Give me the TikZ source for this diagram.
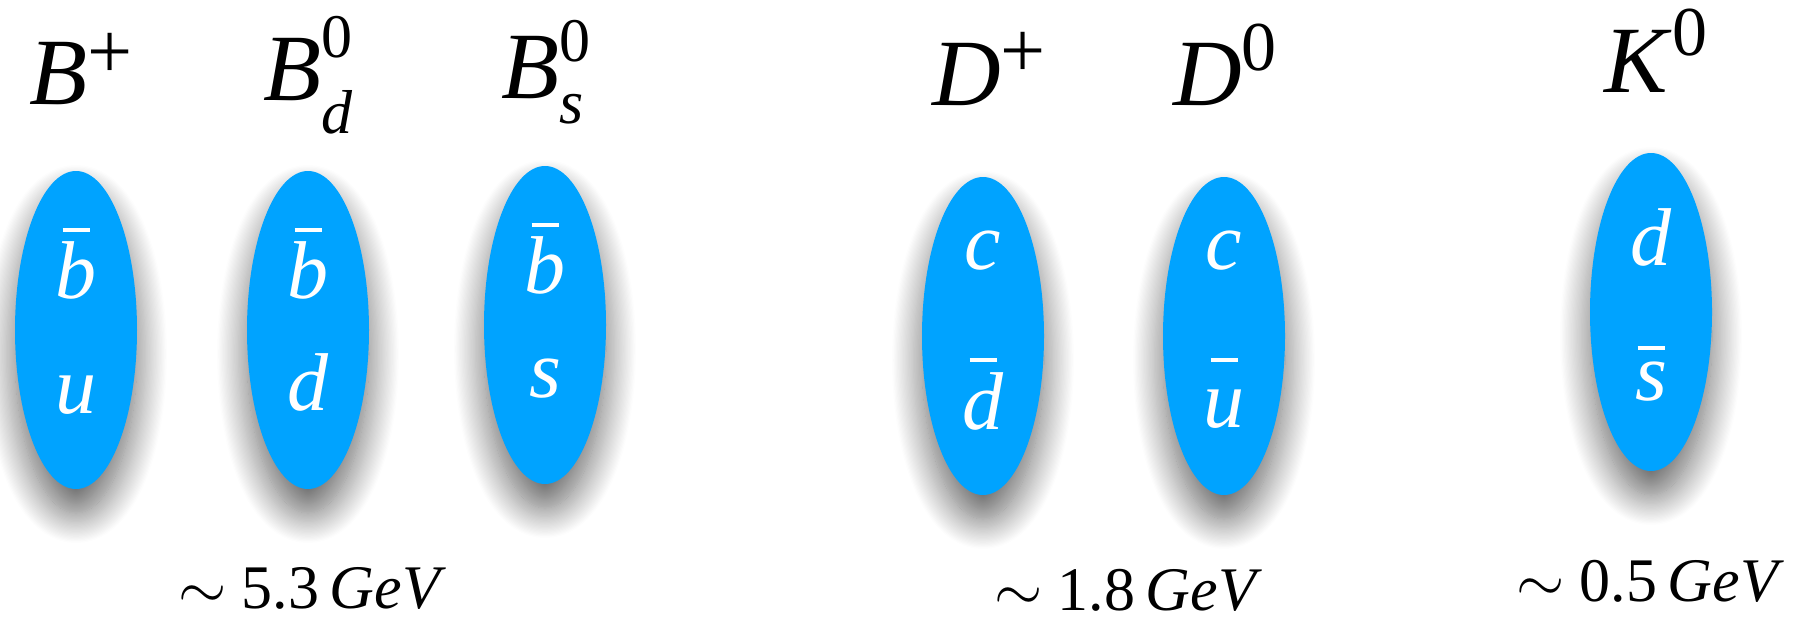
\RequirePackage{fix-cm}
\documentclass[tikz,border=0pt]{standalone}
\usepackage{fontspec}
\setmainfont{Liberation Serif}
\usepackage{xcolor}
\usepackage{tikz}
\usetikzlibrary{shapes.geometric,shadows.blur,positioning}

\definecolor{mesonblue}{RGB}{0,163,255}

% antiquark: italic letter with a flat bar raised by #2
\newcommand{\qbar}[2]{\setbox0=\hbox{\textit{#1}}%
  \rlap{\hbox to \wd0{\hss\raisebox{#2}{\rule{27pt}{4pt}}\hss}}\box0}
% raised charge, and charge over a lowered flavour index
\newcommand{\charge}[2]{\raisebox{#2}{\fontsize{70}{70}\selectfont #1}}
\newcommand{\plus}[1]{\raisebox{#1}{\fontsize{80}{80}\selectfont +}}
\newcommand{\chargeflav}[4]{\rlap{\raisebox{#3}{\fontsize{62}{62}\selectfont #1}}%
  \raisebox{#4}{\fontsize{62}{62}\selectfont\itshape #2}}

\begin{document}
\begin{tikzpicture}[x=1pt, y=-1pt,
    meson/.style={ellipse, fill=mesonblue, minimum width=122pt, minimum height=318pt, inner sep=0pt,
        blur shadow={shadow xshift=0pt, shadow yshift=-24pt, shadow blur radius=30pt,
        shadow blur steps=25, shadow opacity=60}},
    quark/.style={anchor=base, inner sep=0pt, text=white, font=\fontsize{82}{82}\selectfont},
    hadron/.style={anchor=base, inner sep=0pt, font=\fontsize{95}{95}\selectfont},
    mass/.style={anchor=base, inner sep=0pt, font=\fontsize{62}{62}\selectfont}]
    \useasboundingbox (0,0) rectangle (1794,616);

    % B mesons
    \node[meson] (bplus) at (76,330) {};
    \node[meson] (bdzero) at (308,330) {};
    \node[meson] (bszero) at (545,325) {};
    \node[quark] (bplus-top) at ([yshift=32pt]bplus.center) {\qbar{b}{66pt}};
    \node[quark] (bplus-bot) at ([yshift=-83pt]bplus.center) {\textit{u}};
    \node[quark] (bdzero-top) at ([yshift=32pt]bdzero.center) {\qbar{b}{66pt}};
    \node[quark] (bdzero-bot) at ([yshift=-80pt]bdzero.center) {\textit{d}};
    \node[quark] (bszero-top) at ([yshift=32pt]bszero.center) {\qbar{b}{66pt}};
    \node[quark] (bszero-bot) at ([yshift=-72pt]bszero.center) {\textit{s}};
    \node[hadron] (bplus-name) at (81,104) {\textit{B}\plus{26pt}};
    \node[hadron] (bdzero-name) at (308,100) {\textit{B}\chargeflav{0}{d}{43pt}{-33pt}};
    \node[hadron] (bszero-name) at (543,98) {\textit{B}\chargeflav{0}{s}{37pt}{-25pt}};
    \node[mass] (bmass) at (312,608) {$\sim$ 5.3\,\textit{GeV}};

    % D mesons
    \node[meson] (dplus) at (983,336) {};
    \node[meson] (dzero) at (1224,336) {};
    \node[quark] (dplus-top) at ([yshift=67pt]dplus.center) {\textit{c}};
    \node[quark] (dplus-bot) at ([yshift=-93pt]dplus.center) {\qbar{d}{67pt}};
    \node[quark] (dzero-top) at ([yshift=67pt]dzero.center) {\textit{c}};
    \node[quark] (dzero-bot) at ([yshift=-91pt]dzero.center) {\qbar{u}{65pt}};
    \node[hadron] (dplus-name) at (989,105) {\textit{D}\plus{28pt}};
    \node[hadron] (dzero-name) at (1225,105) {\textit{D}\charge{0}{35pt}};
    \node[mass] (dmass) at (1128,610) {$\sim$ 1.8\,\textit{GeV}};

    % kaon
    \node[meson] (kzero) at (1651,312) {};
    \node[quark] (kzero-top) at ([yshift=47pt]kzero.center) {\textit{d}};
    \node[quark] (kzero-bot) at ([yshift=-88pt]kzero.center) {\qbar{s}{50pt}};
    \node[hadron] (kzero-name) at (1656,92) {\textit{K}\charge{0}{37pt}};
    \node[mass] (kmass) at (1650,601) {$\sim$ 0.5\,\textit{GeV}};
\end{tikzpicture}
\end{document}
